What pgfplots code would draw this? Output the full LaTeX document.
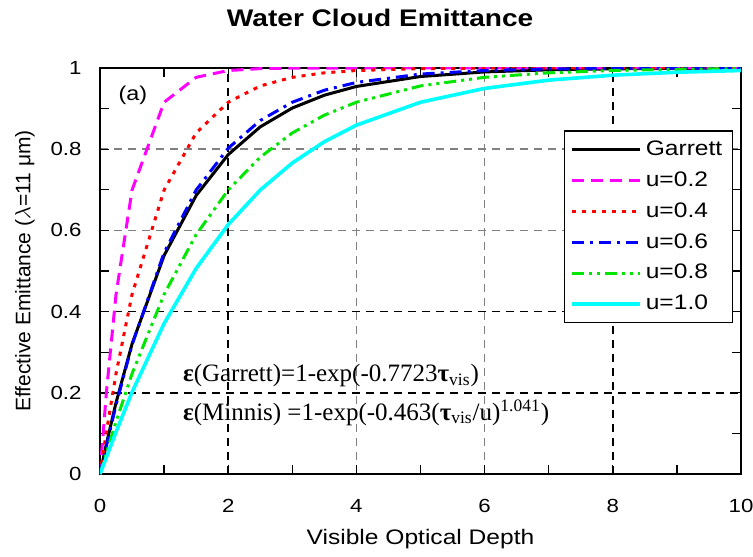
\documentclass[border=0pt]{standalone}
\usepackage{fontspec}
\setmainfont{Liberation Sans}[FakeStretch=1.17]
\newfontfamily\ylabfont{Liberation Sans}
\newfontfamily\timesf{Liberation Serif}
\usepackage{pgfplots}
\pgfplotsset{compat=1.18}
\definecolor{cMag}{RGB}{255,0,255}
\definecolor{cRed}{RGB}{255,0,0}
\definecolor{cBlue}{RGB}{0,0,255}
\definecolor{cGreen}{RGB}{0,230,0}
\definecolor{cCyan}{RGB}{0,255,255}
\begin{document}
\begin{tikzpicture}
\begin{axis}[
  scale only axis, width=320.5pt, height=203pt,
  xmin=0, xmax=10, ymin=0, ymax=1,
  xtick={0,2,4,6,8,10}, xticklabels={0,2,4,6,8,10},
  minor xtick={1,3,5,7,9},
  ytick={0,0.2,0.4,0.6,0.8,1}, yticklabels={0,0.2,0.4,0.6,0.8,1},
  minor ytick={0.1,0.3,0.5,0.7,0.9},
  tick align=inside, major tick length=4.5pt, minor tick length=4.5pt,
  tick style={black, line width=0.6pt},
  axis line style={line width=1pt},
  grid=major,
  major grid style={gray, line width=0.7pt, dash pattern=on 4pt off 3pt},
  extra x ticks={2,8}, extra x tick labels={},
  extra y ticks={0.2,0.4}, extra y tick labels={},
  extra tick style={grid=major, major grid style={black, line width=0.8pt, dash pattern=on 4pt off 3pt}},
  ticklabel style={font=\fontsize{9.5}{11}\selectfont},
  xticklabel style={yshift=-9pt},
  yticklabel style={xshift=-5.7pt},
  xlabel={Visible Optical Depth},
  ylabel={\ylabfont Effective Emittance ($\lambda$=11 μm)},
  xlabel style={font=\fontsize{10.5}{12}\selectfont, at={(axis description cs:0.5,-0.16)}, anchor=center},
  ylabel style={font=\fontsize{10.5}{12}\selectfont, at={(axis description cs:-0.117,0.5)}, anchor=center},
  title={\bfseries Water Cloud Emittance},
  title style={font=\fontsize{12}{14}\selectfont, at={(axis description cs:0.437,1)}, anchor=base, yshift=14.5pt},
  legend style={at={(0.9875,0.847)}, anchor=north east, draw=black, line width=0.7pt,
    font=\fontsize{10.5}{12}\selectfont, row sep=2.6pt, inner sep=3pt, fill=white},
  legend cell align=left,
  legend image code/.code={\draw[#1] (0pt,0pt) -- (34pt,0pt);},
]
\addplot[black, line width=1.5pt] coordinates {
(0,0) (0.1,0.0743) (0.25,0.1756) (0.5,0.3204) (1,0.5381) (1.5,0.6860) (2,0.7866)
(2.5,0.8550) (3,0.9014) (3.5,0.9330) (4,0.9545) (5,0.9790) (6,0.9903) (7,0.9955)
(8,0.9979) (9,0.9990) (10,0.9996)};
\addlegendentry{Garrett}
\addplot[cMag, line width=1.5pt, dash pattern=on 6pt off 3.5pt] coordinates {
(0,0) (0.1,0.2015) (0.25,0.4424) (0.5,0.6994) (1,0.9157) (1.5,0.9770) (2,0.9938)
(2.5,0.9984) (3,0.9996) (4,1.0) (5,1.0) (6,1.0) (7,1.0) (8,1.0) (9,1.0) (10,1.0)};
\addlegendentry{u=0.2}
\addplot[cRed, line width=1.5pt, dash pattern=on 2pt off 3pt] coordinates {
(0,0) (0.1,0.1036) (0.25,0.2471) (0.5,0.4424) (1,0.6994) (1.5,0.8400) (2,0.9157)
(2.5,0.9558) (3,0.9770) (3.5,0.9881) (4,0.9938) (5,0.9984) (6,0.9996) (7,1.0)
(8,1.0) (9,1.0) (10,1.0)};
\addlegendentry{u=0.4}
\addplot[cBlue, line width=1.5pt, dash pattern=on 6pt off 3pt on 1.5pt off 3pt] coordinates {
(0,0) (0.1,0.0692) (0.25,0.1698) (0.5,0.3182) (1,0.5452) (1.5,0.6994) (2,0.8024)
(2.5,0.8707) (3,0.9157) (3.5,0.9452) (4,0.9644) (5,0.9851) (6,0.9938) (7,0.9975)
(8,0.9990) (9,0.9996) (10,0.9998)};
\addlegendentry{u=0.6}
\addplot[cGreen, line width=1.5pt, dash pattern=on 6pt off 2.5pt on 1.5pt off 2.5pt on 1.5pt off 2.5pt] coordinates {
(0,0) (0.1,0.0518) (0.25,0.1289) (0.5,0.2471) (1,0.4424) (1.5,0.5897) (2,0.6994)
(2.5,0.7804) (3,0.8400) (3.5,0.8838) (4,0.9157) (5,0.9558) (6,0.9770) (7,0.9881)
(8,0.9938) (9,0.9968) (10,0.9984)};
\addlegendentry{u=0.8}
\addplot[cCyan, line width=1.8pt] coordinates {
(0,0) (0.1,0.0413) (0.25,0.1036) (0.5,0.2015) (1,0.3706) (1.5,0.5064) (2,0.6143)
(2.5,0.6994) (3,0.7661) (3.5,0.8184) (4,0.8592) (5,0.9157) (6,0.9497) (7,0.9701)
(8,0.9823) (9,0.9895) (10,0.9938)};
\addlegendentry{u=1.0}
\node[anchor=base west, font=\fontsize{10}{12}\selectfont] at (axis cs:0.18,0.92) {(a)};
\node[anchor=base west, inner sep=0pt, font=\timesf\fontsize{12.5}{15}\selectfont] at (axis cs:1.29,0.227)
  {\textbf{ε}(Garrett)=1-exp(-0.7723\textbf{τ}\textsubscript{vis})};
\node[anchor=base west, inner sep=0pt, font=\timesf\fontsize{12.5}{15}\selectfont] at (axis cs:1.29,0.133)
  {\textbf{ε}(Minnis) =1-exp(-0.463(\textbf{τ}\textsubscript{vis}/u)\textsuperscript{1.041})};
\end{axis}
\pgfresetboundingbox
\path (-50pt,-41pt) rectangle (326.5pt,237pt);
\end{tikzpicture}
\end{document}
